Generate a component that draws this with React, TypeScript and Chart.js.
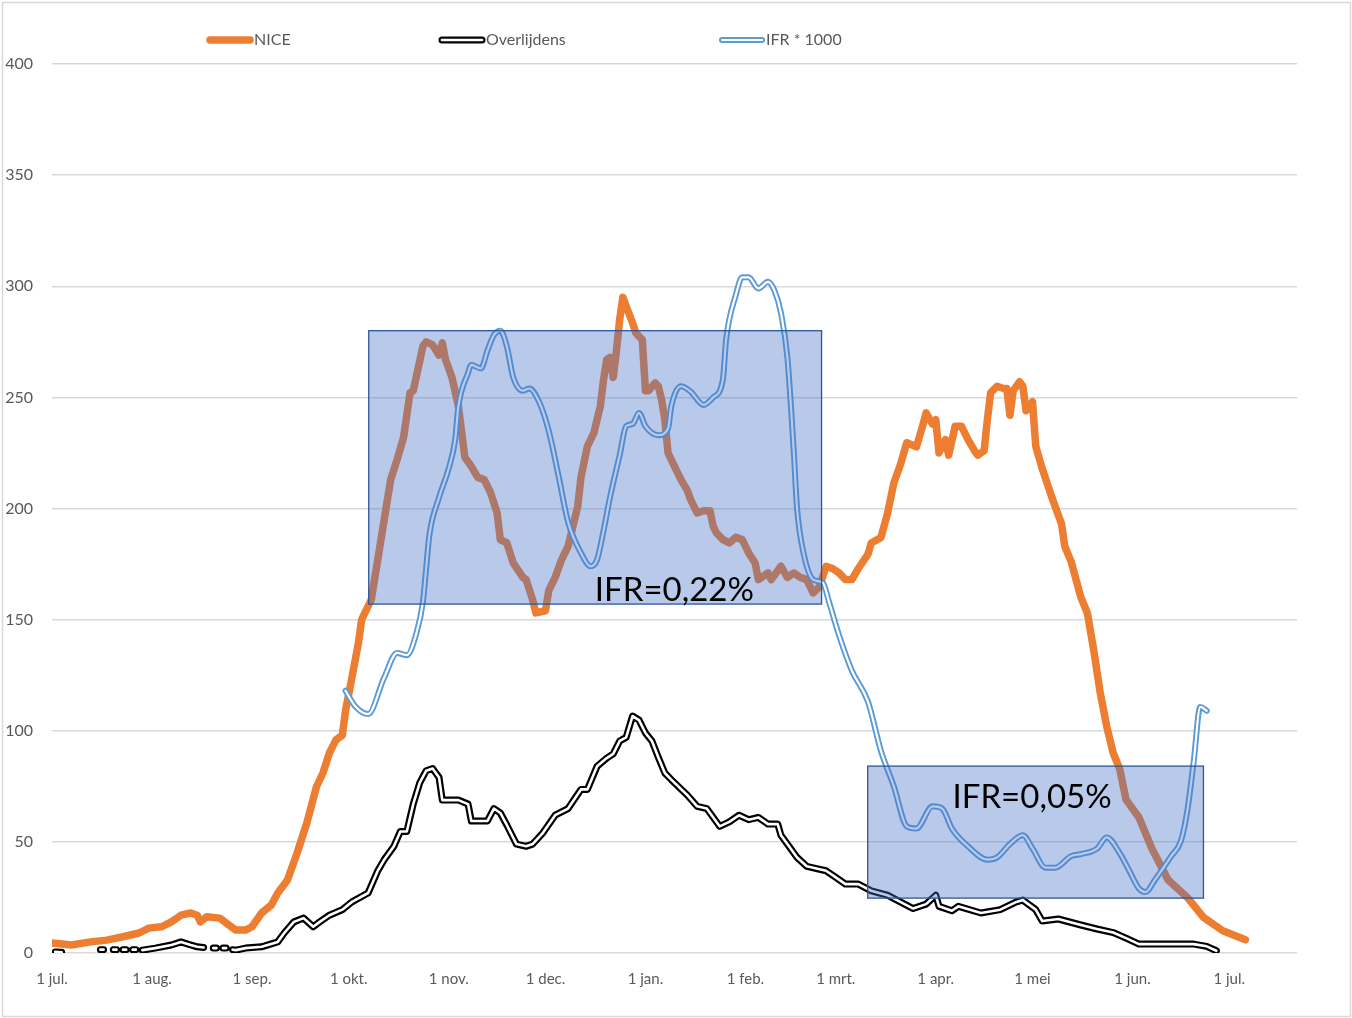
import React, { useEffect, useRef } from "react";
import { Chart, registerables } from "chart.js";

Chart.register(...registerables);

// x values are days since 1 jul. 2020
const MONTH_TICK_DAYS = [0, 31, 62, 92, 123, 153, 184, 215, 243, 274, 304, 335, 365];
const MONTH_TICK_LABELS = ["1 jul.", "1 aug.", "1 sep.", "1 okt.", "1 nov.", "1 dec.", "1 jan.", "1 feb.", "1 mrt.", "1 apr.", "1 mei", "1 jun.", "1 jul."];

const SERIES_LABELS = ["NICE", "Overlijdens", "IFR * 1000"];

const NICE_DAYS = [0, 6, 12, 17, 22, 27, 30, 34, 37, 40, 43, 45, 46, 48, 52, 54, 57, 60, 62, 65, 68, 70, 73, 76, 79, 82, 84, 86, 88, 90, 91, 93, 95, 96, 97, 99, 102, 104, 105, 107, 109, 111, 112, 115, 116, 118, 120, 121, 122, 124, 126, 128, 130, 132, 134, 136, 138, 139, 141, 143, 146, 147, 149, 150, 153, 154, 156, 158, 160, 163, 164, 166, 168, 170, 171, 172, 173, 174, 175, 176, 177, 178, 180, 181, 183, 184, 185, 187, 188, 189, 190, 191, 193, 195, 197, 198, 200, 202, 204, 205, 206, 208, 210, 212, 214, 216, 218, 219, 222, 223, 226, 228, 230, 232, 234, 236, 238, 240, 242, 244, 246, 248, 250, 253, 254, 257, 259, 261, 263, 265, 268, 270, 271, 273, 274, 275, 277, 278, 280, 282, 284, 286, 287, 289, 290, 291, 293, 295, 296, 297, 298, 300, 301, 302, 304, 305, 307, 310, 313, 314, 316, 319, 321, 323, 325, 327, 329, 331, 333, 337, 341, 346, 352, 357, 363, 370];
const NICE_VALUES = [4.5, 3.6, 5, 5.8, 7.3, 9, 11.2, 11.8, 14, 17, 18, 17, 14, 16.3, 15.7, 13.5, 10.3, 10.3, 11.8, 18, 21.6, 27, 32.8, 45, 58.5, 74.8, 81, 90, 95.8, 98, 109, 124, 139.5, 150, 153, 159, 186, 204, 213, 222, 232, 252, 253, 273, 275, 273.6, 269, 274.5, 267, 259, 246, 223, 219, 214, 213, 207, 198, 186, 184.5, 175.5, 169, 168, 159, 153, 154, 163, 169, 177, 183, 201, 214, 228, 234, 246, 258, 267, 268, 259, 271, 285, 295, 291, 283.5, 279, 276, 253, 253, 256.5, 255, 249, 240, 225, 219, 213, 208, 204, 198, 199, 199, 192, 189, 186, 184.5, 187, 186, 180, 175.5, 168, 171, 168, 174, 169, 171, 169, 168, 162, 165, 174, 173, 171, 168, 168, 173, 179.5, 184.5, 187, 197.5, 211.5, 219.6, 229.6, 227.7, 237.6, 243, 238, 240, 225, 231, 224, 237, 237, 231, 226, 224, 226, 240, 252, 255, 254, 254, 242, 253, 257, 255, 244, 248, 228, 218, 205, 193, 183, 176, 160, 153, 136, 117, 102, 90, 83, 69, 61, 47, 33, 25, 16, 10, 6];

const DEATHS_DAYS = [1, 3, 4, 15, 16, 17, 19, 20, 21, 22, 23, 24, 25, 26, 27, 28, 32, 37, 40, 43, 45, 47, 48, 50, 51, 52, 53, 54, 55, 56, 57, 60, 65, 70, 72, 75, 78, 81, 83, 86, 90, 93, 98, 101, 103, 106, 108, 110, 112, 114, 116, 118, 120, 121, 123, 126, 129, 130, 133, 135, 137, 139, 141, 144, 147, 149, 152, 156, 160, 164, 166, 169, 172, 174, 176, 178, 180, 182, 184, 186, 188, 190, 192, 197, 200, 203, 207, 210, 213, 216, 219, 222, 225, 226, 228, 231, 234, 237, 240, 243, 246, 250, 254, 259, 263, 267, 271, 274, 275, 279, 281, 288, 294, 299, 301, 305, 307, 312, 319, 324, 329, 333, 337, 345, 354, 358, 361];
const DEATHS_VALUES = [0.5, 0.3, null, 1.5, 1.5, null, 1.5, 1.5, null, 1.5, 1.5, null, 1.5, 1.5, null, 1.3, 2.2, 3.6, 5, 3.6, 2.8, 2.5, null, 2.2, 2.2, null, 2.2, 2.2, null, 1.5, 1.3, 2.2, 2.8, 5, 9, 14, 15.7, 11.8, 14, 17, 19.5, 23, 27, 37, 42, 48, 54.7, 54.7, 67, 76.5, 82, 83, 79, 68.8, 68.8, 68.8, 67, 59.4, 59.4, 59.4, 65, 63, 57.6, 49, 48, 49, 53.7, 62, 65, 73.6, 73.6, 84, 87.7, 89.6, 95.4, 97, 106.6, 104.8, 99, 95.4, 88, 81, 78, 71, 66, 65, 57, 59, 62, 60, 61, 58, 58, 53, 49, 43, 39, 38, 37, 34, 31, 31, 28, 26, 23, 20, 22, 26, 21, 19, 21, 18, 19.5, 23, 23.8, 19.5, 14.4, 15.3, 12.6, 10.8, 9.2, 6.7, 4, 4, 4, 3, 1];

const IFR_DAYS = [91, 94, 98, 103, 107, 110, 113, 115, 116, 117, 120, 123, 125, 126, 129, 130, 133, 135, 137, 139, 141, 143, 146, 148, 151, 154, 157, 160, 164, 167, 169, 171, 173, 176, 178, 180, 182, 184, 188, 191, 192, 195, 198, 202, 205, 208, 209, 212, 214, 216, 219, 222, 224, 226, 228, 230, 231, 233, 236, 239, 241, 244, 248, 253, 257, 261, 265, 268, 273, 276, 279, 284, 290, 293, 297, 301, 304, 308, 311, 316, 319, 324, 327, 331, 334, 337, 339, 342, 347, 350, 352, 354, 356, 358];
const IFR_VALUES = [118, 111, 107.5, 124, 135, 134, 144, 158, 173, 188, 205, 218, 231, 246, 261, 264.6, 263, 271, 278, 280, 273, 259, 253, 254, 248, 235, 215, 194, 180, 174, 177, 190, 205, 224, 237, 238, 243, 237, 233, 236, 246, 255, 252.6, 246.6, 250, 258, 276, 296, 304, 304, 299, 302, 298, 288, 268, 225, 200, 180, 168, 166.5, 157.5, 143, 127, 113, 91, 75, 57, 56, 66, 65, 56, 48, 42, 43, 49, 53, 47, 38.4, 38.4, 43.6, 44.5, 47, 52, 45, 37, 29, 27.4, 33, 43.6, 50.4, 64, 86.5, 110.7, 109];

// annotation boxes, in data units (days / value)
const BOX_X_START = [98.2, 252.9];
const BOX_X_END = [238.6, 357.0];
const BOX_Y_LOW = [157.0, 24.7];
const BOX_Y_HIGH = [280.0, 84.1];
const BOX_TEXTS = ["IFR=0,22%", "IFR=0,05%"];
const BOX_TEXT_X = [168.3, 279.2];
const BOX_TEXT_Y = [158.4, 65.2];

const FONT = "Lato, 'Open Sans', 'DejaVu Sans', sans-serif";
const GREY_TEXT = "#595959";
const ORANGE = "#ED7D31";
const BLUE = "#5B9BD5";

function toPoints(days: number[], vals: (number | null)[]) {
  return days.map((d, i) => ({ x: d, y: vals[i] }));
}

const backgroundPlugin = {
  id: "bgFrame",
  beforeDraw(chart: any) {
    const ctx = chart.ctx;
    ctx.save();
    ctx.fillStyle = "#ffffff";
    ctx.fillRect(0, 0, chart.width, chart.height);
    ctx.strokeStyle = "#D9D9D9";
    ctx.lineWidth = 1.5;
    ctx.strokeRect(2.5, 2.5, chart.width - 4, chart.height - 4);
    ctx.restore();
  },
};

const boxesPlugin = {
  id: "ifrBoxes",
  afterDatasetsDraw(chart: any) {
    const ctx = chart.ctx;
    const xs = chart.scales.x;
    const ys = chart.scales.y;
    ctx.save();
    for (let i = 0; i < BOX_TEXTS.length; i++) {
      const x0 = xs.getPixelForValue(BOX_X_START[i]);
      const x1 = xs.getPixelForValue(BOX_X_END[i]);
      const y0 = ys.getPixelForValue(BOX_Y_HIGH[i]);
      const y1 = ys.getPixelForValue(BOX_Y_LOW[i]);
      ctx.fillStyle = "rgba(68,114,196,0.38)";
      ctx.fillRect(x0, y0, x1 - x0, y1 - y0);
      ctx.strokeStyle = "#2F5597";
      ctx.lineWidth = 1.3;
      ctx.strokeRect(x0, y0, x1 - x0, y1 - y0);
      ctx.fillStyle = "#000000";
      ctx.font = `33px ${FONT}`;
      ctx.textAlign = "left";
      ctx.textBaseline = "alphabetic";
      ctx.fillText(BOX_TEXTS[i], xs.getPixelForValue(BOX_TEXT_X[i]), ys.getPixelForValue(BOX_TEXT_Y[i]));
    }
    ctx.restore();
  },
};

const legendPlugin = {
  id: "excelLegend",
  afterDraw(chart: any) {
    const ctx = chart.ctx;
    const y = 40;
    const items = [
      { x: 208, color: ORANGE, double: false, outer: 7.5, inner: 0 },
      { x: 440, color: "#000000", double: true, outer: 7, inner: 2.6 },
      { x: 720, color: BLUE, double: true, outer: 6, inner: 2.2 },
    ];
    ctx.save();
    ctx.lineCap = "round";
    items.forEach((it, i) => {
      ctx.beginPath();
      ctx.moveTo(it.x + 2, y);
      ctx.lineTo(it.x + 42, y);
      ctx.strokeStyle = it.color;
      ctx.lineWidth = it.outer;
      ctx.stroke();
      if (it.double) {
        ctx.beginPath();
        ctx.moveTo(it.x + 2, y);
        ctx.lineTo(it.x + 42, y);
        ctx.strokeStyle = "#ffffff";
        ctx.lineWidth = it.inner;
        ctx.stroke();
      }
      ctx.fillStyle = GREY_TEXT;
      ctx.font = `16px ${FONT}`;
      ctx.textAlign = "left";
      ctx.textBaseline = "middle";
      ctx.fillText(SERIES_LABELS[i], it.x + 46, y);
    });
    ctx.restore();
  },
};

export default function App() {
  const ref = useRef<HTMLCanvasElement | null>(null);

  useEffect(() => {
    if (!ref.current) return;
    const common = {
      pointRadius: 0,
      pointHoverRadius: 0,
      borderCapStyle: "round" as const,
      borderJoinStyle: "round" as const,
      fill: false,
      spanGaps: false,
    };
    const chart = new Chart(ref.current, {
      type: "line",
      data: {
        datasets: [
          { ...common, label: SERIES_LABELS[0], data: toPoints(NICE_DAYS, NICE_VALUES), borderColor: ORANGE, borderWidth: 7.5, tension: 0, order: 4 },
          { ...common, label: SERIES_LABELS[1], data: toPoints(DEATHS_DAYS, DEATHS_VALUES), borderColor: "#000000", borderWidth: 7, tension: 0, order: 3 },
          { ...common, label: SERIES_LABELS[1] + " inner", data: toPoints(DEATHS_DAYS, DEATHS_VALUES), borderColor: "#ffffff", borderWidth: 2.6, tension: 0, order: 2 },
          { ...common, label: SERIES_LABELS[2], data: toPoints(IFR_DAYS, IFR_VALUES), borderColor: BLUE, borderWidth: 6, cubicInterpolationMode: "monotone", order: 1 },
          { ...common, label: SERIES_LABELS[2] + " inner", data: toPoints(IFR_DAYS, IFR_VALUES), borderColor: "#ffffff", borderWidth: 2.2, cubicInterpolationMode: "monotone", order: 0 },
        ] as any,
      },
      options: {
        responsive: false,
        animation: false,
        devicePixelRatio: 1,
        layout: { padding: { top: 64, right: 55, left: 0, bottom: 0 } },
        plugins: {
          legend: { display: false },
          tooltip: { enabled: false },
        },
        scales: {
          x: {
            type: "linear",
            min: 0,
            max: 386,
            grid: { display: false, drawTicks: false },
            border: { display: false },
            afterBuildTicks: (scale: any) => {
              scale.ticks = MONTH_TICK_DAYS.map((v) => ({ value: v }));
            },
            afterFit: (scale: any) => {
              scale.height = 65;
            },
            ticks: {
              autoSkip: false,
              maxRotation: 0,
              padding: 17,
              color: GREY_TEXT,
              font: { family: FONT, size: 15 },
              callback: (v: any) => {
                const idx = MONTH_TICK_DAYS.indexOf(Number(v));
                return idx >= 0 ? MONTH_TICK_LABELS[idx] : "";
              },
            },
          },
          y: {
            min: 0,
            max: 400,
            grid: { color: "#D9D9D9", lineWidth: 1.4, drawTicks: false },
            border: { display: false },
            afterFit: (scale: any) => {
              scale.width = 52;
            },
            ticks: {
              stepSize: 50,
              padding: 19,
              color: GREY_TEXT,
              font: { family: FONT, size: 16 },
            },
          },
        },
      } as any,
      plugins: [backgroundPlugin, boxesPlugin, legendPlugin],
    });
    return () => chart.destroy();
  }, []);

  return (
    <div style={{ position: "absolute", left: 0, top: 0, width: 1352, height: 1018 }}>
      <canvas ref={ref} width={1352} height={1018} />
    </div>
  );
}
